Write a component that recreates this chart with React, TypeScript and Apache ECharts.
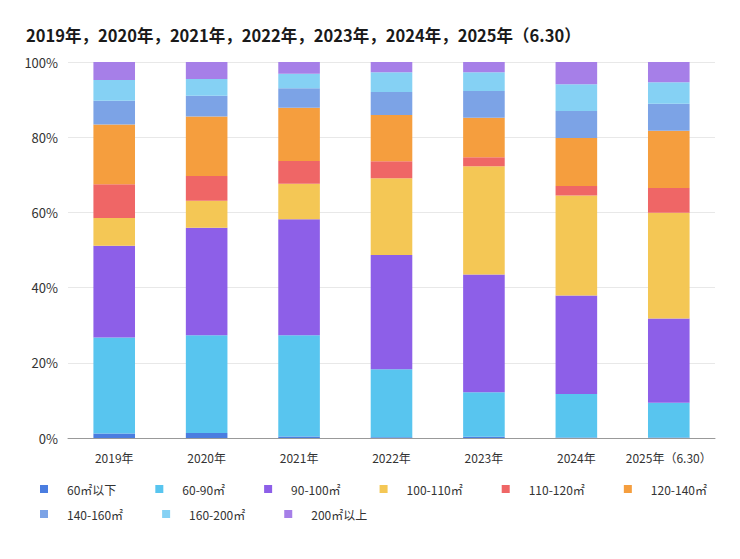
import React, { useEffect, useRef } from 'react';
import * as echarts from 'echarts';

const years = ['2019年', '2020年', '2021年', '2022年', '2023年', '2024年', '2025年（6.30）'];

const seriesNames = [
    '60㎡以下', '60-90㎡', '90-100㎡', '100-110㎡', '110-120㎡',
    '120-140㎡', '140-160㎡', '160-200㎡', '200㎡以上'
];

const colors = [
    '#4a7de0', '#58c5ef', '#8d5fe8', '#f4c755', '#ef6666',
    '#f59e3e', '#7ca3e6', '#85d1f4', '#a67fe8'
];

// share (%) of each size band per year
const below60 = [1.2, 1.3, 0.4, 0.2, 0.3, 0.1, 0.1];
const s60to90 = [25.5, 26.0, 26.9, 18.1, 11.9, 11.6, 9.3];
const s90to100 = [24.4, 28.6, 30.9, 30.4, 31.3, 26.2, 22.4];
const s100to110 = [7.4, 7.2, 9.4, 20.4, 28.8, 26.6, 28.1];
const s110to120 = [9.0, 6.6, 6.1, 4.5, 2.4, 2.5, 6.6];
const s120to140 = [15.9, 15.8, 14.1, 12.3, 10.5, 12.8, 15.2];
const s140to160 = [6.3, 5.5, 5.2, 6.1, 7.1, 7.2, 7.2];
const s160to200 = [5.5, 4.5, 3.9, 5.3, 5.0, 7.1, 5.7];
const above200 = [4.8, 4.5, 3.1, 2.7, 2.7, 5.9, 5.4];

const seriesValues = [
    below60, s60to90, s90to100, s100to110, s110to120,
    s120to140, s140to160, s160to200, above200
];

const title = '2019年，2020年，2021年，2022年，2023年，2024年，2025年（6.30）';

const FONT = '"Noto Sans CJK SC", "Noto Sans", sans-serif';

// square icon with empty room on the right so the text sits further away
const legendIcon = 'path://M0,0H8V8H0Z M22,0V8';

const App: React.FC = () => {
    const chartRef = useRef<HTMLDivElement>(null);

    useEffect(() => {
        document.body.style.margin = '0';
        if (!chartRef.current) return;

        const chart = echarts.init(chartRef.current, null, { renderer: 'svg' });

        const legendBase = {
            orient: 'horizontal',
            icon: legendIcon,
            itemWidth: 22,
            itemHeight: 8,
            itemGap: 39,
            textStyle: { fontSize: 12, color: '#333', fontFamily: FONT }
        };

        const option = {
            animation: false,
            textStyle: { fontFamily: FONT },
            color: colors,
            title: {
                text: title,
                left: 21,
                top: 22,
                textStyle: { fontSize: 16.5, fontWeight: 'bold', color: '#1a1a1a', fontFamily: FONT }
            },
            legend: [
                { ...legendBase, left: 35, top: 478, data: seriesNames.slice(0, 6) },
                { ...legendBase, left: 35, top: 503, data: seriesNames.slice(6) }
            ],
            grid: {
                left: 68,
                right: 25,
                top: 62,
                bottom: 121
            },
            xAxis: {
                type: 'category',
                data: years,
                axisTick: { show: false },
                axisLine: { lineStyle: { color: '#999' } },
                axisLabel: { color: '#333', fontSize: 12, margin: 13, interval: 0 }
            },
            yAxis: {
                type: 'value',
                min: 0,
                max: 100,
                interval: 20,
                axisLabel: { formatter: '{value}%', color: '#333', fontSize: 13, margin: 10 },
                splitLine: { lineStyle: { color: '#e8e8e8' } }
            },
            series: seriesNames.map((name, i) => ({
                name,
                type: 'bar',
                stack: 'total',
                barWidth: '45%',
                data: seriesValues[i],
                itemStyle: { color: colors[i] }
            }))
        };

        chart.setOption(option);

        return () => {
            chart.dispose();
        };
    }, []);

    return <div ref={chartRef} style={{ width: 740, height: 559 }} />;
};

export default App;
